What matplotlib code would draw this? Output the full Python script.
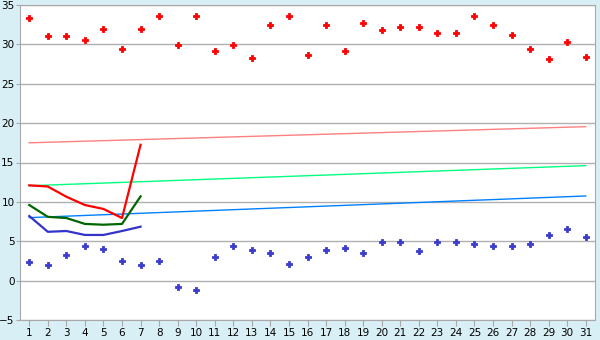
import matplotlib
matplotlib.use("Agg")
import matplotlib.pyplot as plt

BG, GRID, SPINE = "#d9eff6", "#b0b0b0", "#a8a8a8"

days = list(range(1, 32))
# daily maxima / minima (markers)
tmax = [33.4, 31.1, 31.1, 30.5, 31.9, 29.35, 31.9, 33.55, 29.9, 33.6,
        29.1, 29.9, 28.3, 32.5, 33.55, 28.7, 32.4, 29.1, 32.7, 31.8,
        32.15, 32.15, 31.4, 31.4, 33.55, 32.5, 31.25, 29.35, 28.2, 30.25, 28.45]
tmin = [2.4, 2.0, 3.25, 4.45, 4.0, 2.55, 2.0, 2.55, -0.75, -1.25,
        2.95, 4.45, 3.95, 3.45, 2.05, 3.05, 3.95, 4.1, 3.55, 4.85,
        4.95, 3.8, 4.95, 4.85, 4.6, 4.35, 4.45, 4.6, 5.85, 6.5, 5.6]
# short series, days 1-7
line_days = [1, 2, 3, 4, 5, 6, 7]
red_line = [12.1, 11.95, 10.65, 9.6, 9.1, 7.95, 17.25]
green_line = [9.6, 8.1, 7.95, 7.2, 7.1, 7.2, 10.7]
blue_line = [8.2, 6.2, 6.3, 5.8, 5.8, 6.3, 6.85]
# reference trend lines (start / end of month)
trend_days = [1, 31]
trend_red = [17.5, 19.55]
trend_green = [12.05, 14.6]
trend_blue = [8.0, 10.75]

fig = plt.figure(figsize=(6, 3.4), dpi=100, facecolor=BG)
ax = fig.add_axes([20 / 600, 1 - 320 / 340, 575 / 600, 315 / 340])
ax.set_facecolor("white")

ax.plot(trend_days, trend_red, color="#ff8080", lw=1.0)
ax.plot(trend_days, trend_green, color="#00ff80", lw=1.0)
ax.plot(trend_days, trend_blue, color="#0080ff", lw=1.0)

ax.plot(line_days, red_line, color="#ff0000", lw=1.6)
ax.plot(line_days, green_line, color="#006600", lw=1.6)
ax.plot(line_days, blue_line, color="#3333cc", lw=1.6)

ax.plot(days, tmax, ls="none", marker="P", ms=5, color="#ff0000", mew=0.6)
ax.plot(days, tmin, ls="none", marker="P", ms=5, color="#3a3acc", mew=0.6)

ax.set_xlim(0.5, 31.5)
ax.set_ylim(-5, 35)
ax.set_xticks(days)
ax.set_yticks(range(-5, 36, 5))
ax.yaxis.grid(True, color=GRID, lw=1)
ax.set_axisbelow(True)
for s in ax.spines.values():
    s.set_color(SPINE)
ax.tick_params(axis="x", length=4, color=SPINE, labelsize=7.5, pad=2)
ax.tick_params(axis="y", length=3, color=SPINE, labelsize=7.5, pad=1)

fig.savefig("out.png", dpi=100, facecolor=BG)
